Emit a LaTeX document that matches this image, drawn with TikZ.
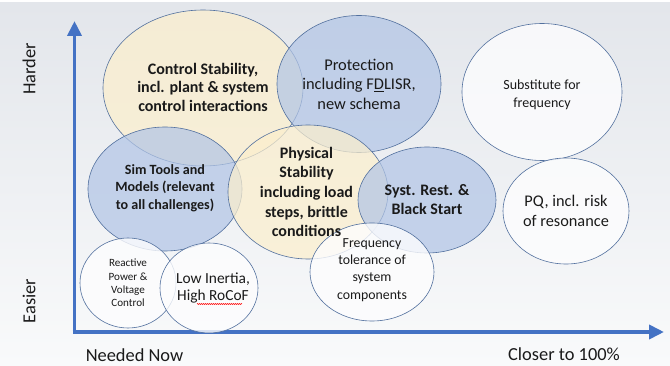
\documentclass[tikz,border=0pt]{standalone}
\usepackage{fontspec}
\setmainfont{Carlito}
\usetikzlibrary{shapes.geometric,arrows.meta,decorations.pathmorphing}
\definecolor{axisblue}{HTML}{4472C4}
\definecolor{edge}{HTML}{52709E}
\definecolor{yel}{HTML}{FCEFCD}
\definecolor{blu}{HTML}{B2C5E6}
\definecolor{wht}{HTML}{FDFDFE}
\definecolor{txt}{HTML}{1A1A1A}
\tikzset{
  bub/.style={ellipse, draw=edge, line width=0.6pt, inner sep=0pt, fill opacity=0.72},
  ybub/.style={bub, fill=yel},
  bbub/.style={bub, fill=blu},
  wbub/.style={bub, fill=wht, fill opacity=0.8},
  btxt/.style={align=center, text=txt, inner sep=0pt},
  axis/.style={line width=3.8pt, draw=axisblue, -{Triangle[length=15pt,width=14pt]}},
  lab/.style={text=txt, font=\fontsize{18.4}{20}\selectfont}
}
\begin{document}
\begin{tikzpicture}[x=1pt,y=-1pt]
\useasboundingbox (0,0) rectangle (670,366);
\shade[top color={rgb,255:red,227;green,230;blue,235}, bottom color={rgb,255:red,249;green,250;blue,251}] (0,3) rectangle (670,366);
% axes
\coordinate (o) at (74.5,332);
\coordinate (ytop) at (74.5,21);
\coordinate (xend) at (664,332);
\draw[axis] ([yshift=-1.9pt]o) -- (ytop);
\draw[axis] ([xshift=-1.9pt]o) -- (xend);
% bubbles
\node[ybub, minimum width=200pt, minimum height=156pt] (cs) at (203,88) {};
\node[bbub, minimum width=164pt, minimum height=137pt] (pr) at (359,84) {};
\node[wbub, minimum width=160pt, minimum height=137pt] (sf) at (542,92) {};
\node[bbub, minimum width=154pt, minimum height=124pt] (st) at (165,189) {};
\node[ybub, minimum width=160pt, minimum height=134pt] (ps) at (308,192) {};
\node[bbub, minimum width=138pt, minimum height=106pt] (sr) at (427,200) {};
\node[wbub, minimum width=126pt, minimum height=106pt] (pq) at (566,211) {};
\node[wbub, minimum width=124pt, minimum height=98pt] (ft) at (372,272) {};
\node[wbub, minimum width=96pt, minimum height=90pt] (rp) at (128,283) {};
\node[wbub, minimum width=98pt, minimum height=90pt] (li) at (209,288) {};
% bubble texts
\node[btxt, font=\bfseries\fontsize{16}{18.5}\selectfont] (cst) at ([yshift=1pt]cs.center) {Control Stability,\\incl. plant \& system\\control interactions};
\node[btxt, font=\fontsize{16.4}{19.5}\selectfont] (prt) at (pr.center) {Protection\\including F\underline{D}LISR,\\new schema};
\node[btxt, font=\fontsize{14}{18}\selectfont] (sft) at ([yshift=-3pt]sf.center) {Substitute for\\frequency};
\node[btxt, font=\bfseries\fontsize{14.1}{17.5}\selectfont] (stt) at ([yshift=1pt]st.center) {Sim Tools and\\Models (relevant\\to all challenges)};
\node[btxt, font=\bfseries\fontsize{16}{19.7}\selectfont] (pst) at ([xshift=-1.5pt]ps.center) {Physical\\Stability\\including load\\steps, brittle\\conditions};
\node[btxt, font=\bfseries\fontsize{16}{19}\selectfont] (srt) at (sr.center) {Syst. Rest. \&\\Black Start};
\node[btxt, font=\fontsize{16.3}{20}\selectfont] (pqt) at (pq.center) {PQ, incl. risk\\of resonance};
\node[btxt, font=\fontsize{13.8}{17.3}\selectfont] (ftt) at ([yshift=2pt]ft.center) {Frequency\\tolerance of\\system\\components};
\node[btxt, font=\fontsize{11.1}{13.3}\selectfont] (rpt) at (rp.center) {Reactive\\Power \&\\Voltage\\Control};
\node[btxt, font=\fontsize{15.4}{16.5}\selectfont] (lit) at ([xshift=4pt]li.center) {Low Inertia,\\High RoCoF};
\coordinate (wl) at (197,304);
\coordinate (wr) at (242,304);
\draw[red, line width=0.4pt, decorate, decoration={zigzag, amplitude=0.6pt, segment length=2pt}] (wl) -- (wr);
% axis labels
\node[lab, rotate=90] (hard) at (29,69) {Harder};
\node[lab, rotate=90] (easy) at (29,301) {Easier};
\node[lab] (now) at (134.5,355) {Needed Now};
\node[lab] (full) at (564,354) {Closer to 100\%};
\end{tikzpicture}
\end{document}
